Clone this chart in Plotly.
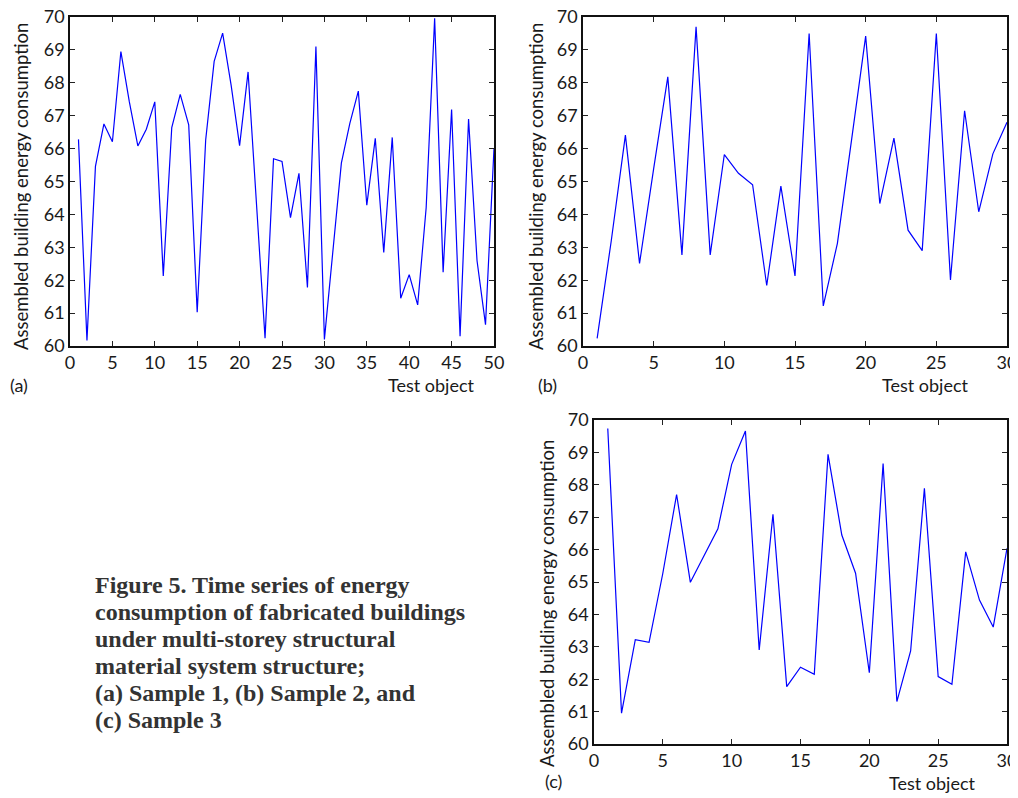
import plotly.graph_objects as go

# ---------------- data ----------------
x_a = list(range(1, 51))
sample1 = [66.28, 60.17, 65.46, 66.75, 66.21, 68.95, 67.42, 66.08, 66.59, 67.42,
           62.13, 66.64, 67.65, 66.72, 61.03, 66.26, 68.65, 69.51, 67.93, 66.09,
           68.33, 64.30, 60.24, 65.69, 65.61, 63.90, 65.25, 61.78, 69.10, 60.20,
           62.99, 65.56, 66.77, 67.75, 64.28, 66.31, 62.84, 66.34, 61.45, 62.17,
           61.25, 64.20, 69.96, 62.24, 67.19, 60.30, 66.90, 62.59, 60.65, 66.01]

x_b = list(range(1, 31))
sample2 = [60.23, 63.20, 66.41, 62.51, 65.39, 68.18, 62.77, 69.70, 62.77, 65.82,
           65.25, 64.90, 61.84, 64.86, 62.13, 69.50, 61.22, 63.12, 66.26, 69.42,
           64.33, 66.32, 63.52, 62.90, 69.50, 62.01, 67.15, 64.08, 65.84, 66.80]

x_c = list(range(1, 31))
sample3 = [69.74, 60.95, 63.22, 63.14, 65.27, 67.70, 64.99, 65.83, 66.64, 68.63,
           69.66, 62.90, 67.09, 61.77, 62.37, 62.15, 68.94, 66.45, 65.27, 62.20,
           68.66, 61.31, 62.87, 67.89, 62.08, 61.84, 65.93, 64.44, 63.61, 66.04]

y_ticks = list(range(60, 71))
x_ticks_a = list(range(0, 51, 5))
x_ticks_bc = list(range(0, 31, 5))

y_title = "Assembled building energy consumption"
x_title = "Test object"
caption_lines = ["Figure 5. Time series of energy",
                 "consumption of fabricated buildings",
                 "under multi-storey structural",
                 "material system structure;",
                 "(a) Sample 1, (b) Sample 2, and",
                 "(c) Sample 3"]

# ---------------- layout helpers ----------------
# the page body has an 8px margin, so the figure is sized to fill the rest of the window
OFF = 8
W, H = 1018 - OFF, 798 - OFF
def px(x):
    return (x - OFF) / W
def py(y):
    return 1 - (y - OFF) / H

FONT = "Lato"
TICKFONT = dict(family=FONT, size=18, color="#1a1a1a")

fig = go.Figure()
fig.add_trace(go.Scatter(x=x_a, y=sample1, mode="lines",
                         line=dict(color="#0000ff", width=1.2), xaxis="x", yaxis="y", showlegend=False))
fig.add_trace(go.Scatter(x=x_b, y=sample2, mode="lines",
                         line=dict(color="#0000ff", width=1.2), xaxis="x2", yaxis="y2", showlegend=False))
fig.add_trace(go.Scatter(x=x_c, y=sample3, mode="lines",
                         line=dict(color="#0000ff", width=1.2), xaxis="x3", yaxis="y3", showlegend=False))

def xaxis(domain, anchor, rng, ticks):
    return dict(domain=domain, anchor=anchor, range=rng, tickvals=ticks,
                ticks="inside", ticklen=5, tickwidth=1, tickcolor="#222",
                showline=True, linecolor="#111", linewidth=1.6, mirror="ticks",
                showgrid=False, zeroline=False, tickfont=TICKFONT, automargin=False,
                ticklabeloverflow="allow")

def yaxis(domain, anchor):
    return dict(domain=domain, anchor=anchor, range=[60, 70], tickvals=y_ticks,
                ticks="inside", ticklen=5, tickwidth=1, tickcolor="#222",
                showline=True, linecolor="#111", linewidth=1.6, mirror="ticks",
                showgrid=False, zeroline=False, tickfont=TICKFONT, automargin=False,
                ticklabeloverflow="allow")

# panel positions (pixels in the window)
a_box = (70, 494, 17, 346)
b_box = (583, 1007, 17, 346)
c_box = (594, 1007, 420, 744)

fig.update_layout(
    width=W, height=H,
    margin=dict(l=0, r=0, t=0, b=0, pad=0, autoexpand=False),
    paper_bgcolor="white", plot_bgcolor="white",
    xaxis=xaxis([px(a_box[0]), px(a_box[1])], "y", [0, 50], x_ticks_a),
    yaxis=yaxis([py(a_box[3]), py(a_box[2])], "x"),
    xaxis2=xaxis([px(b_box[0]), px(b_box[1])], "y2", [0, 30], x_ticks_bc),
    yaxis2=yaxis([py(b_box[3]), py(b_box[2])], "x2"),
    xaxis3=xaxis([px(c_box[0]), px(c_box[1])], "y3", [0, 30], x_ticks_bc),
    yaxis3=yaxis([py(c_box[3]), py(c_box[2])], "x3"),
)

ann = []
def text(x, y, s, size=18, angle=0, xanchor="center", family=FONT, color="#1a1a1a"):
    ann.append(dict(x=px(x), y=py(y), xref="paper", yref="paper", text=s, showarrow=False,
                    textangle=angle, xanchor=xanchor, yanchor="middle",
                    font=dict(family=family, size=size, color=color)))

# y-axis titles
text(21, 187, y_title, size=18.5, angle=-90)
text(536, 187, y_title, size=18.5, angle=-90)
text(547, 604, y_title, size=18.5, angle=-90)
# x-axis titles
text(431, 385, x_title)
text(925, 385, x_title)
text(932, 783, x_title)
# panel labels
text(19, 385, "(a)")
text(547, 385, "(b)")
text(553, 781, "(c)")

# caption
cap_y0 = 585
for i, line in enumerate(caption_lines):
    ann.append(dict(x=px(93), y=py(cap_y0 + i * 27), xref="paper", yref="paper",
                    text="<b>" + line + "</b>", showarrow=False, xanchor="left", yanchor="middle",
                    font=dict(family="Liberation Serif", size=24, color="#333333")))

fig.update_layout(annotations=ann)
fig.write_html("out.html")
